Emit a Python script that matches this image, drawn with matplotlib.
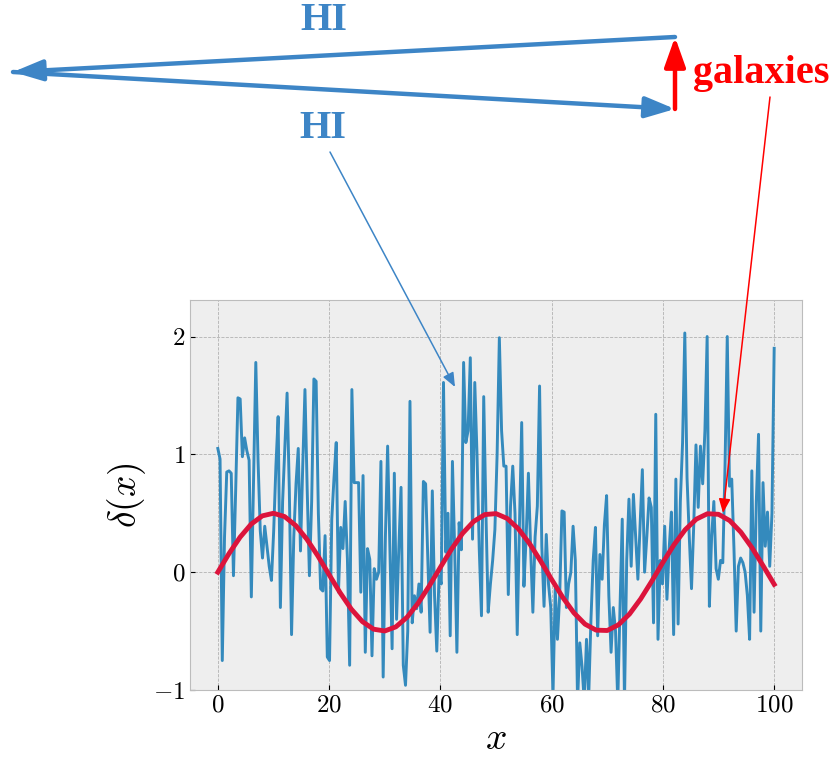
import numpy as np
import matplotlib
matplotlib.use('Agg')
import matplotlib.pyplot as plt
from matplotlib.patches import FancyArrowPatch

plt.style.use('bmh')
plt.rcParams['mathtext.fontset'] = 'cm'
plt.rcParams['font.family'] = 'serif'
plt.rcParams['font.serif'] = ['cmr10']
plt.rcParams['axes.formatter.use_mathtext'] = True

# noisy HI field (250 samples over 0..100)
hi_values = [
    1.05, 0.96, -0.75, 0.30, 0.85, 0.86, 0.84, -0.03, 0.70, 1.48,
    1.47, 0.98, 1.14, 1.03, 0.95, -0.21, 0.80, 1.78, 0.95, 0.35,
    0.12, 0.39, 0.22, 0.05, -0.07, 0.35, 0.90, 1.32, -0.30, 0.60,
    1.05, 1.52, 0.70, -0.53, 0.30, 0.75, 1.05, 0.18, 0.90, 1.55,
    0.70, -0.03, 0.60, 1.64, 1.62, 0.50, -0.14, -0.16, 0.31, -0.72,
    -0.75, 0.45, 0.80, 1.10, -0.17, 0.38, 0.20, 0.60, 0.11, -0.79,
    1.55, 0.76, 0.76, 0.76, -0.17, 0.82, -0.68, 0.20, 0.11, -0.71,
    0.03, -0.06, 0.00, 0.94, -0.89, 0.30, 1.07, 0.20, -0.65, 0.84,
    -0.40, 0.20, 0.72, -0.79, -0.96, -0.50, 1.45, -0.43, -0.20, -0.31,
    -0.10, -0.34, 0.77, 0.75, 0.10, -0.51, 0.69, -0.20, -0.67, -0.03,
    -0.10, 1.61, 0.17, 0.50, -0.54, 0.94, 0.20, -0.68, 0.42, 0.19,
    1.78, 1.10, 1.20, 1.82, 0.28, 1.61, 1.00, 0.20, -0.37, 1.49,
    0.50, -0.34, -0.10, 0.10, 0.36, 1.00, 1.99, 1.20, 0.90, 0.90,
    -0.19, 0.56, 0.90, 0.50, -0.53, 0.40, 1.27, -0.12, 0.30, 0.84,
    0.20, -0.34, 0.30, 0.56, 1.58, 0.22, -0.29, 0.32, -0.10, -0.30,
    -1.05, -0.14, -0.57, -0.20, 0.52, 0.51, -0.30, -0.10, 0.00, 0.39,
    0.10, -1.10, -0.60, -0.80, -1.10, -0.57, -1.05, -0.40, 0.10, 0.38,
    -0.54, 0.15, -0.06, 0.40, 0.65, -0.20, -0.68, -0.30, -0.50, -1.10,
    -0.30, 0.45, -1.10, 0.10, 0.62, 0.05, 0.66, 0.30, -0.06, 0.40,
    0.87, 0.00, 0.30, 0.63, 0.55, -0.43, 1.34, -0.57, 0.10, -0.10,
    0.39, -0.23, 0.20, 0.51, -0.53, 0.79, -0.44, 0.60, 1.10, 2.03,
    0.80, 0.30, -0.14, 0.40, 1.08, 0.55, 1.07, 0.75, 1.20, 2.00,
    -0.29, 0.30, 0.60, 0.03, -0.06, 0.10, 0.08, 0.90, 2.00, 0.73,
    0.79, 0.20, -0.50, 0.05, 0.12, 0.08, 0.00, -0.20, -0.57, 0.86,
    -0.34, 0.60, 1.17, -0.50, 0.76, 0.22, 0.51, 0.05, 0.50, 1.90,
]
hi_x = np.linspace(0, 100, len(hi_values))

# smooth galaxy field, every 2 units of x
gal_x = np.arange(0, 101, 2)
gal_values = [
    0.000, 0.157, 0.297, 0.408, 0.478, 0.500, 0.472, 0.396, 0.280, 0.137,
    -0.021, -0.176, -0.314, -0.420, -0.484, -0.499, -0.464, -0.383, -0.263, -0.117,
    0.041, 0.195, 0.330, 0.431, 0.489, 0.497, 0.456, 0.369, 0.245, 0.096,
    -0.062, -0.214, -0.345, -0.441, -0.492, -0.495, -0.447, -0.355, -0.227, -0.076,
    0.083, 0.233, 0.360, 0.450, 0.496, 0.491, 0.438, 0.340, 0.208, 0.055,
    -0.103,
]

x_ticks = [0, 20, 40, 60, 80, 100]
y_ticks = [-1, 0, 1, 2]

hi_color = '#3d85c6'

W, H = 834, 760
fig = plt.figure(figsize=(W / 100, H / 100), dpi=100)
ax = fig.add_axes([190 / W, 1 - 690 / H, 612 / W, 390 / H])

ax.plot(hi_x, hi_values, color='#348ABD', lw=2.1)
ax.plot(gal_x, gal_values, color='crimson', lw=3.5)

ax.grid(True, ls='--', lw=0.6, color='#b2b2b2')
ax.set_xlim(-5, 105)
ax.set_ylim(-1, 2.31)
ax.set_xticks(x_ticks)
ax.set_yticks(y_ticks)
ax.tick_params(labelsize=18)
ax.set_xlabel('$x$', fontsize=27)
ax.set_ylabel(r'$\delta(x)$', fontsize=27)


def fp(x, y):
    # image pixel -> figure fraction
    return (x / W, 1 - y / H)


def arrow(p0, p1, color, lw, style, ms):
    a = FancyArrowPatch(fp(*p0), fp(*p1), transform=fig.transFigure,
                        arrowstyle=style, mutation_scale=ms, color=color,
                        lw=lw, shrinkA=0, shrinkB=0)
    fig.add_artist(a)


thick = '-|>,head_length=0.9,head_width=0.32'
thin = '-|>,head_length=0.85,head_width=0.35'

arrow((675, 37), (13, 72), hi_color, 3.2, thick, 20)
arrow((13, 72), (675, 109), hi_color, 3.2, thick, 20)
arrow((675, 109), (675, 37), 'red', 3.2, thick, 20)
arrow((330, 152), (455, 387), hi_color, 1.1, thin, 10)
arrow((770, 97), (723, 513), 'red', 1.1, thin, 10)

fig.text(*fp(324, 21), 'HI', color=hi_color, fontsize=29, fontweight='bold',
         family='Liberation Serif', ha='center', va='center')
fig.text(*fp(323, 128), 'HI', color=hi_color, fontsize=29, fontweight='bold',
         family='Liberation Serif', ha='center', va='center')
fig.text(*fp(693, 83), 'galaxies', color='red', fontsize=29, fontweight='bold',
         family='Liberation Serif', ha='left', va='baseline')

fig.savefig('out.png', dpi=100)
